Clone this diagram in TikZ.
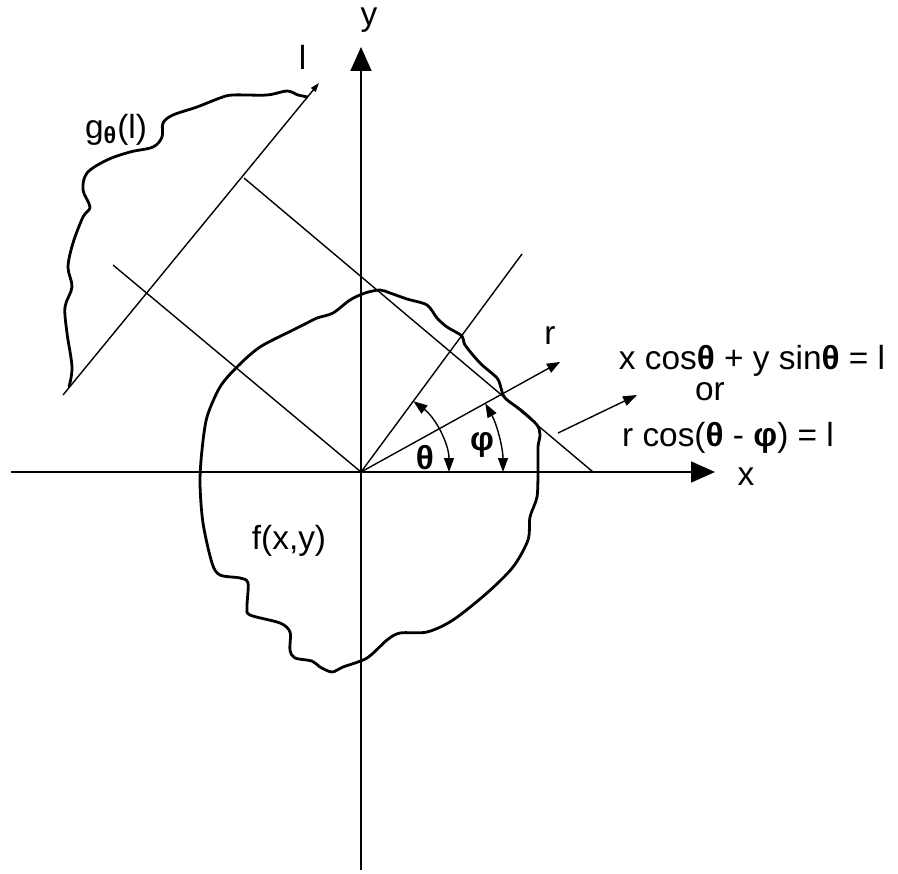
\documentclass[tikz,border=0pt]{standalone}
\usepackage{fontspec}
\setmainfont{Liberation Sans}
\usetikzlibrary{arrows.meta}

\begin{document}
\begin{tikzpicture}[x=0.5pt,y=0.5pt,
    thinline/.style={line width=0.7pt},
    axisline/.style={line width=0.8pt, -{Triangle[length=12pt,width=10.5pt]}},
    curve/.style={line width=1.4pt, line join=round},
    angarrow/.style={line width=0.7pt, {Triangle[length=7pt,width=5pt]}-{Triangle[length=7pt,width=5pt]}},
    lbl/.style={inner sep=0pt, font=\fontsize{16.7}{20}\selectfont}]
    \useasboundingbox (-361,-401) rectangle (537,472);
    % points
    \coordinate (O) at (0,0);
    \coordinate (xstart) at (-350,0);
    \coordinate (xend) at (354,0);
    \coordinate (ystart) at (0,-398);
    \coordinate (yend) at (0,425);
    \coordinate (thetaend) at (161,218);
    \coordinate (rend) at (199,110);
    \coordinate (tanA) at (-117,294);
    \coordinate (tanB) at (232,0);
    \coordinate (perpA) at (-248,207);
    \coordinate (lstart) at (-298,77);
    \coordinate (lend) at (-42,389);
    \coordinate (eqfrom) at (197,39);
    \coordinate (eqto) at (276,77);
    % axes
    \draw[axisline] (xstart) -- (xend);
    \draw[axisline] (ystart) -- (yend);
    \node[lbl] (xlabel) at (385,-5) {x};
    \node[lbl] (ylabel) at (8,452) {y};
    % rays
    \draw[thinline] (O) -- (thetaend);
    \draw[thinline, -{Triangle[length=6.5pt,width=5pt]}] (O) -- (rend);
    \draw[thinline] (tanA) -- (tanB);
    \draw[thinline] (perpA) -- (O);
    \draw[thinline, -{Triangle[length=4.5pt,width=3pt]}] (lstart) -- (lend);
    \draw[thinline, -{Triangle[length=7pt,width=5pt]}] (eqfrom) -- (eqto);
    % angles
    \draw[angarrow] (O) ++(53.5:88) arc[start angle=53.5, end angle=0, radius=88];
    \draw[angarrow] (O) ++(28.9:142) arc[start angle=28.9, end angle=0, radius=142];
    \node[lbl] (theta) at (64,14) {\textbf{θ}};
    \node[lbl] (phi) at (121,27) {\textbf{φ}};
    \node[lbl] (rlabel) at (189,136) {r};
    \node[lbl] (llabel) at (-58.5,414.5) {l};
    % projection g
    \draw[curve] plot[smooth, tension=0.55] coordinates {
        (-292,85) (-289,105) (-294,139) (-296,165) (-289,185) (-293,205)
        (-288,229) (-278,255) (-271,265) (-278,282) (-274,299) (-254,312)
        (-231,320) (-208,325) (-199,335) (-198,349) (-188,357) (-164,365)
        (-141,374) (-128,377) (-94,377) (-74,381) (-63,377) (-53,375)};
    \node[lbl] (glabel) at (-245,342) {g\textsubscript{\textbf{θ}}(l)};
    % object f
    \draw[curve] plot[smooth cycle, tension=0.5] coordinates {
        (-154,55) (-141,85) (-124,105) (-101,125) (-68,142) (-54,149)
        (-44,154) (-28,159) (-11,172) (4,179) (19,182) (29,179) (46,173)
        (66,167) (76,154) (86,145) (101,136) (104,127) (119,109) (136,94)
        (140,84) (144,74) (161,61) (176,47) (179,37) (177,25) (177,2)
        (176,-25) (169,-45) (167,-68) (152,-95) (126,-121) (92,-148)
        (66,-160) (39,-161) (26,-168) (6,-186) (-18,-195) (-29,-200)
        (-41,-195) (-49,-189) (-66,-186) (-71,-178) (-71,-160) (-81,-151)
        (-111,-143) (-114,-135) (-113,-111) (-121,-106) (-141,-103)
        (-149,-91) (-158,-51) (-161,-11) (-159,22)};
    \node[lbl] (flabel) at (-72,-69) {f(x,y)};
    % equations
    \node[lbl] (eqone) at (391,111) {x cos\textbf{θ} + y sin\textbf{θ} = l};
    \node[lbl] (eqor) at (349,80) {or};
    \node[lbl] (eqtwo) at (367,34) {r cos(\textbf{θ} - \textbf{φ}) = l};
\end{tikzpicture}
\end{document}
